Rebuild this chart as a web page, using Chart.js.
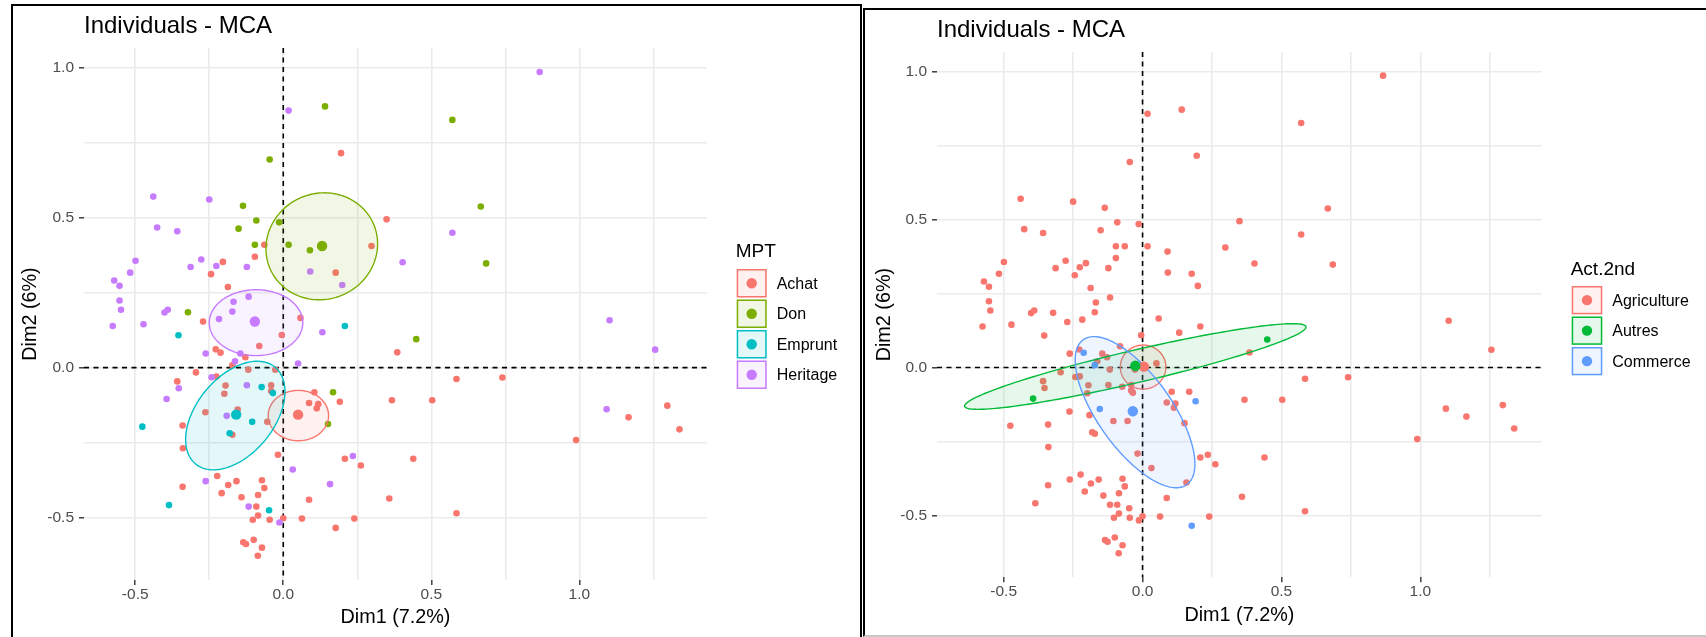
<!DOCTYPE html>
<html>
<head>
<meta charset="utf-8">
<title>Individuals - MCA</title>
<script src="https://cdn.jsdelivr.net/npm/chart.js@4.4.0/dist/chart.umd.min.js"></script>
<style>
  html, body { margin: 0; padding: 0; background: #fff; }
  body { width: 1706px; height: 637px; position: relative; overflow: hidden; }
  canvas { position: absolute; top: 0; }
  #mptChart { left: 0; }
  #actChart { left: 853px; }
  .frame { position: absolute; border: 2px solid #000; box-sizing: border-box; pointer-events: none; }
</style>
</head>
<body>
<canvas id="mptChart" width="860" height="637"></canvas>
<canvas id="actChart" width="853" height="637"></canvas>
<div class="frame" style="left:11px; top:4px; width:851px; height:700px;"></div>
<div class="frame" style="left:863px; top:8px; width:900px; height:629px; border-bottom-color:#c8c8c8;"></div>

<script>
// individual coordinates on the first two MCA dimensions (same individuals in both panels)
const dim1 = [
  0.866, 0.018, 0.141, 0.571, 0.195, -0.046, -0.439, -0.250, -0.136, 0.667,
  0.349, -0.091, -0.014, -0.151, -0.426, -0.358, 0.571, -0.096, -0.064, 0.018,
  0.298, 0.090, -0.096, -0.204, -0.499, -0.277, -0.313, -0.226, -0.123, 0.403,
  0.685, -0.244, -0.517, 0.091, 0.177, -0.571, -0.553, 0.199, -0.187, -0.553,
  -0.548, -0.168, -0.117, -0.401, -0.390, -0.322, -0.172, -0.217, -0.271, 0.058,
  -0.576, -0.472, 1.102, -0.354, 0.208, 0.132, -0.005, 0.449, -0.081, 1.256,
  0.385, -0.262, -0.228, -0.212, -0.145, -0.128, -0.163, -0.172, 0.050, -0.295,
  -0.242, -0.226, -0.118, -0.027, 0.585, 0.740, -0.358, -0.353, -0.394, -0.195,
  -0.199, -0.123, -0.073, -0.041, -0.041, -0.035, 0.105, 0.087, 0.118, 0.113,
  0.168, 0.191, 0.151, 0.367, 0.503, 1.092, 1.166, 1.297, 1.338, 0.989,
  -0.263, -0.154, -0.191, -0.105, -0.054, -0.181, -0.172, -0.340, -0.476, -0.339,
  -0.018, 0.208, 0.235, 0.262, 0.032, 0.439, 0.358, 0.158, 0.087, -0.223,
  -0.340, -0.262, -0.186, -0.158, -0.208, -0.072, -0.064, -0.141, -0.085, -0.117,
  -0.091, -0.048, -0.386, -0.085, -0.103, -0.046, 0.000, -0.013, 0.063, 0.177,
  0.240, 0.585, -0.135, -0.126, -0.100, -0.072, -0.086
];
const dim2 = [
  0.987, 0.858, 0.872, 0.827, 0.716, 0.695, 0.571, 0.561, 0.540, 0.538,
  0.495, 0.491, 0.485, 0.464, 0.468, 0.455, 0.450, 0.410, 0.410, 0.410,
  0.406, 0.392, 0.370, 0.353, 0.357, 0.361, 0.336, 0.339, 0.336, 0.352,
  0.348, 0.312, 0.317, 0.321, 0.317, 0.291, 0.273, 0.276, 0.269, 0.224,
  0.193, 0.220, 0.237, 0.184, 0.193, 0.185, 0.187, 0.162, 0.154, 0.166,
  0.139, 0.145, 0.158, 0.108, 0.139, 0.118, 0.109, 0.095, 0.072, 0.060,
  0.051, 0.047, 0.061, 0.050, 0.047, 0.035, 0.021, 0.008, 0.014, -0.016,
  -0.032, -0.030, -0.007, -0.007, -0.038, -0.033, -0.046, -0.069, -0.105, -0.060,
  -0.087, -0.059, -0.065, -0.059, -0.078, -0.085, -0.082, -0.118, -0.122, -0.136,
  -0.082, -0.114, -0.188, -0.109, -0.109, -0.139, -0.166, -0.127, -0.206, -0.242,
  -0.149, -0.140, -0.161, -0.181, -0.181, -0.219, -0.224, -0.193, -0.197, -0.269,
  -0.291, -0.304, -0.295, -0.327, -0.340, -0.304, -0.437, -0.389, -0.441, -0.362,
  -0.398, -0.379, -0.392, -0.379, -0.419, -0.376, -0.402, -0.433, -0.425, -0.464,
  -0.464, -0.476, -0.459, -0.494, -0.508, -0.508, -0.503, -0.517, -0.504, -0.535,
  -0.504, -0.486, -0.583, -0.589, -0.575, -0.601, -0.628
];
// MPT: A = Achat, D = Don, E = Emprunt, H = Heritage
const mpt = [
  'H','H','D','D','A','D','H','H','D','D',
  'A','D','D','D','H','H','H','D','A','D',
  'A','D','A','A','H','H','H','H','H','H',
  'D','A','H','H','A','H','H','H','A','H',
  'H','H','H','H','H','D','H','H','A','A',
  'H','H','H','E','E','H','A','D','A','H',
  'A','H','A','A','H','A','H','A','H','A',
  'H','A','A','A','A','A','A','H','H','A',
  'A','H','E','A','A','E','A','A','A','A',
  'D','A','D','A','A','H','A','A','A','A',
  'A','A','H','E','A','E','A','A','E','A',
  'A','A','H','A','H','A','A','H','A','A',
  'A','H','A','A','A','A','A','A','A','H',
  'A','E','E','A','A','A','A','H','A','A',
  'A','A','A','A','A','A','A'
];
// Act.2nd: G = Agriculture, O = Autres, C = Commerce
const act2nd = [
  'G','G','G','G','G','G','G','G','G','G',
  'G','G','G','G','G','G','G','G','G','G',
  'G','G','G','G','G','G','G','G','G','G',
  'G','G','G','G','G','G','G','G','G','G',
  'G','G','G','G','G','G','G','G','G','G',
  'G','G','G','G','G','G','G','O','G','G',
  'G','G','G','C','G','G','G','C','G','G',
  'G','G','G','G','G','G','G','G','O','G',
  'G','G','G','G','G','G','G','G','G','G',
  'G','C','G','G','G','G','G','G','G','G',
  'G','C','G','G','G','G','G','G','G','G',
  'G','G','G','G','G','G','G','G','G','G',
  'G','G','G','G','G','G','G','G','G','G',
  'G','G','G','G','G','G','G','G','G','C',
  'G','G','G','G','G','G','G'
];

const mptLevels = ['Achat', 'Don', 'Emprunt', 'Heritage'];
const mptCodes = ['A', 'D', 'E', 'H'];
const mptMeanX = [0.050, 0.131, -0.159, -0.096];
const mptMeanY = [-0.157, 0.406, -0.157, 0.154];
// confidence ellipses: [centre x, centre y, semi-axis a, semi-axis b, angle of a in degrees]
const mptEllipses = [
  [0.051, -0.160, 0.102, 0.084, 0],
  [0.130, 0.405, 0.190, 0.177, 20],
  [-0.162, -0.160, 0.210, 0.130, 50],
  [-0.092, 0.150, 0.158, 0.110, 0]
];

const actLevels = ['Agriculture', 'Autres', 'Commerce'];
const actCodes = ['G', 'O', 'C'];
const actMeanX = [0.005, -0.026, -0.035];
const actMeanY = [0.003, 0.006, -0.148];
const actEllipses = [
  [0.002, 0.0015, 0.082, 0.0745, 0],
  [-0.026, 0.0035, 0.629, 0.055, 12.35],
  [-0.027, -0.151, 0.308, 0.130, -52]
];

const majorTicks = [-0.5, 0, 0.5, 1.0];
const tickLabels = ['-0.5', '0.0', '0.5', '1.0'];

const FONT = "'Liberation Sans', Arial, sans-serif";
Chart.defaults.font.family = FONT;

function rgba(hex, a) {
  const n = parseInt(hex.slice(1), 16);
  return 'rgba(' + (n >> 16) + ',' + ((n >> 8) & 255) + ',' + (n & 255) + ',' + a + ')';
}

function majorIndex(v) {
  return majorTicks.findIndex(m => Math.abs(m - v) < 1e-6);
}

function buildPanel(canvasId, p) {
  const datasets = [];
  p.levels.forEach((name, i) => {
    const pts = [];
    for (let k = 0; k < dim1.length; k++) {
      if (p.groups[k] === p.codes[i]) pts.push({ x: dim1[k], y: dim2[k] });
    }
    datasets.push({
      label: name,
      data: pts,
      backgroundColor: p.colors[i],
      pointRadius: 3.3,
      pointBorderWidth: 0,
      order: 10 - i
    });
  });
  p.levels.forEach((name, i) => {
    datasets.push({
      label: name,
      data: [{ x: p.meanX[i], y: p.meanY[i] }],
      backgroundColor: p.colors[i],
      pointRadius: 5.2,
      pointBorderWidth: 0,
      order: 4 - i,
      isMean: true
    });
  });

  // dashed lines through the origin
  const originLines = {
    id: 'originLines',
    beforeDatasetsDraw(chart) {
      const { ctx, chartArea: a, scales: { x, y } } = chart;
      ctx.save();
      ctx.strokeStyle = '#000';
      ctx.lineWidth = 1.6;
      ctx.setLineDash([5, 4.5]);
      const x0 = x.getPixelForValue(0), y0 = y.getPixelForValue(0);
      ctx.beginPath();
      ctx.moveTo(x0, a.top); ctx.lineTo(x0, a.bottom);
      ctx.moveTo(a.left, y0); ctx.lineTo(a.right, y0);
      ctx.stroke();
      ctx.restore();
      chart.$ellipsesDone = false;
    }
  };

  // group ellipses, over the individuals and under the group means
  const groupEllipses = {
    id: 'groupEllipses',
    beforeDatasetDraw(chart, args) {
      if (!chart.data.datasets[args.index].isMean || chart.$ellipsesDone) return;
      chart.$ellipsesDone = true;
      const { ctx, chartArea: a, scales: { x, y } } = chart;
      ctx.save();
      ctx.beginPath();
      ctx.rect(a.left, a.top, a.width, a.height);
      ctx.clip();
      p.ellipses.forEach((e, i) => {
        const [cx, cy, ra, rb, deg] = e;
        const th = deg * Math.PI / 180;
        ctx.beginPath();
        for (let k = 0; k <= 180; k++) {
          const t = 2 * Math.PI * k / 180;
          const ex = cx + ra * Math.cos(t) * Math.cos(th) - rb * Math.sin(t) * Math.sin(th);
          const ey = cy + ra * Math.cos(t) * Math.sin(th) + rb * Math.sin(t) * Math.cos(th);
          const px = x.getPixelForValue(ex), py = y.getPixelForValue(ey);
          if (k === 0) ctx.moveTo(px, py); else ctx.lineTo(px, py);
        }
        ctx.closePath();
        ctx.fillStyle = rgba(p.colors[i], 0.1);
        ctx.fill();
        ctx.strokeStyle = p.colors[i];
        ctx.lineWidth = 1.4;
        ctx.stroke();
      });
      ctx.restore();
    }
  };

  // ggplot-style legend on the right
  const sideLegend = {
    id: 'sideLegend',
    afterDraw(chart) {
      const { ctx } = chart;
      const L = p.legend;
      ctx.save();
      ctx.fillStyle = '#000';
      ctx.textAlign = 'left';
      ctx.textBaseline = 'alphabetic';
      ctx.font = '19px ' + FONT;
      ctx.fillText(p.legendTitle, L.x - 1, L.titleBase);
      p.levels.forEach((name, i) => {
        const top = L.keyTop + i * L.pitch;
        ctx.fillStyle = rgba(p.colors[i], 0.1);
        ctx.fillRect(L.x, top, L.keyW, L.keyH);
        ctx.strokeStyle = p.colors[i];
        ctx.lineWidth = 1.5;
        ctx.strokeRect(L.x + 0.75, top + 0.75, L.keyW - 1.5, L.keyH - 1.5);
        ctx.fillStyle = p.colors[i];
        ctx.beginPath();
        ctx.arc(L.x + L.keyW / 2, top + L.keyH / 2, 5.2, 0, 2 * Math.PI);
        ctx.fill();
        ctx.fillStyle = '#000';
        ctx.font = '16px ' + FONT;
        ctx.textBaseline = 'middle';
        ctx.fillText(name, L.x + L.keyW + 10, top + L.keyH / 2 + 1);
        ctx.textBaseline = 'alphabetic';
      });
      ctx.restore();
    }
  };

  const tickFont = { family: FONT, size: 15.5 };
  const gridOpts = {
    color: '#EBEBEB',
    lineWidth: 1.6,
    tickLength: 5,
    tickWidth: 1.4,
    tickColor: c => (c.tick && majorIndex(c.tick.value) >= 0 ? '#333333' : 'rgba(0,0,0,0)')
  };
  const tickCb = v => {
    const i = majorIndex(v);
    return i >= 0 ? tickLabels[i] : '';
  };
  const L = p.layout;

  new Chart(document.getElementById(canvasId), {
    type: 'scatter',
    data: { datasets },
    options: {
      responsive: false,
      animation: false,
      events: [],
      layout: { padding: { left: 0, top: 0, right: L.padRight, bottom: L.padBottom } },
      plugins: {
        legend: { display: false },
        tooltip: { enabled: false },
        title: {
          display: true,
          text: 'Individuals - MCA',
          align: 'start',
          fullSize: false,
          color: '#000',
          font: { family: FONT, size: 24, weight: 'normal' },
          padding: { top: L.titleTop, bottom: L.titleBottom }
        }
      },
      scales: {
        x: {
          type: 'linear',
          min: p.xMin,
          max: p.xMax,
          border: { display: false },
          grid: gridOpts,
          ticks: {
            stepSize: 0.25, includeBounds: false, autoSkip: false, maxRotation: 0,
            color: '#4D4D4D', font: tickFont, padding: 0.3, callback: tickCb
          },
          title: {
            display: true, text: 'Dim1 (7.2%)', color: '#000',
            font: { family: FONT, size: 19.8 }, padding: { top: 0, bottom: L.xTitlePad }
          },
          afterFit: s => { s.height = 50; }
        },
        y: {
          type: 'linear',
          min: -0.709,
          max: 1.067,
          border: { display: false },
          grid: gridOpts,
          ticks: {
            stepSize: 0.25, includeBounds: false, autoSkip: false,
            color: '#4D4D4D', font: tickFont, padding: 5, callback: tickCb
          },
          title: {
            display: true, text: 'Dim2 (6%)', color: '#000',
            font: { family: FONT, size: 19.8 }, padding: { top: L.yTitlePad, bottom: 0 }
          },
          afterFit: s => { s.width = 84; }
        }
      }
    },
    plugins: [originLines, groupEllipses, sideLegend]
  });
}

buildPanel('mptChart', {
  levels: mptLevels,
  codes: mptCodes,
  groups: mpt,
  colors: ['#F8766D', '#7CAE00', '#00BFC4', '#C77CFF'],
  meanX: mptMeanX,
  meanY: mptMeanY,
  ellipses: mptEllipses,
  legendTitle: 'MPT',
  xMin: -0.673,
  xMax: 1.431,
  layout: { padRight: 153, padBottom: 7, titleTop: 12.2, titleBottom: 7.0, xTitlePad: 0.2, yTitlePad: 19 },
  legend: { x: 736.7, titleBase: 256.7, keyTop: 269, pitch: 30.5, keyW: 30, keyH: 28.5 }
});

buildPanel('actChart', {
  levels: actLevels,
  codes: actCodes,
  groups: act2nd,
  colors: ['#F8766D', '#00BA38', '#619CFF'],
  meanX: actMeanX,
  meanY: actMeanY,
  ellipses: actEllipses,
  legendTitle: 'Act.2nd',
  xMin: -0.740,
  xMax: 1.437,
  layout: { padRight: 164.3, padBottom: 9.8, titleTop: 15.9, titleBottom: 7.3, xTitlePad: 0.2, yTitlePad: 20 },
  legend: { x: 718.7, titleBase: 275, keyTop: 286, pitch: 30.5, keyW: 30.6, keyH: 28.3 }
});
</script>
</body>
</html>
